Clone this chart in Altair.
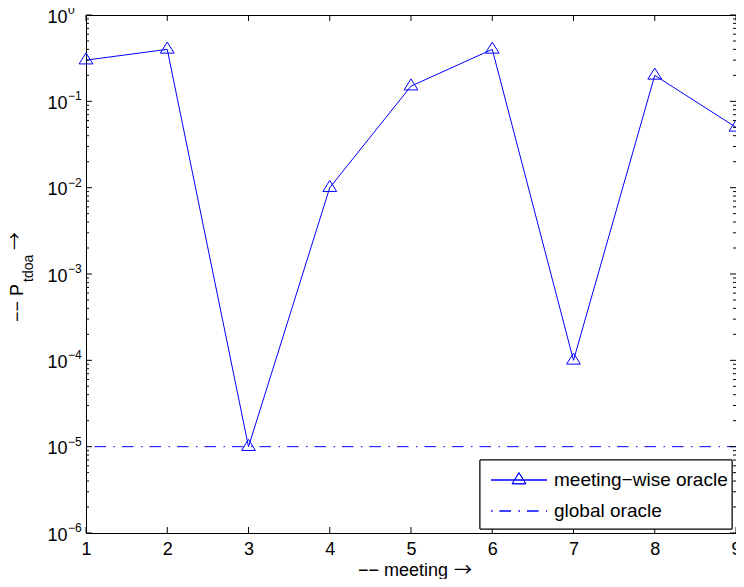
import altair as alt
import pandas as pd
import numpy as np

# ---- data ----
meetings = [1, 2, 3, 4, 5, 6, 7, 8, 9]
p_tdoa = [0.3, 0.4, 1e-5, 0.01, 0.15, 0.4, 1e-4, 0.2, 0.05]
global_x = [1, 9]
global_y = [1e-5, 1e-5]
x_ticks = [1, 2, 3, 4, 5, 6, 7, 8, 9]
y_exponents = [0, -1, -2, -3, -4, -5, -6]
legend_labels = ["meeting\u2212wise oracle", "global oracle"]
x_title = "\u2212\u2212 meeting"
y_title = "\u2212\u2212 P"
y_sub = "tdoa"
arrow = "\u2192"

W, H = 650, 518
BLUE = "#0000ff"
FONT = "Liberation Sans, DejaVu Sans"
AFONT = "Noto Sans CJK JP, DejaVu Sans"

y_major = [10.0 ** e for e in y_exponents]
y_minor = [k * 10.0 ** d for d in range(-6, 0) for k in range(2, 10)]

xs = alt.Scale(domain=[1, 9], nice=False, zero=False)
ys = alt.Scale(type="log", domain=[1e-6, 1], nice=False)

XAX = alt.Axis(values=x_ticks, format="d", ticks=False, domain=False, grid=False,
               labelFont=FONT, labelFontSize=18, labelColor="black", labelPadding=7,
               labelFlush=False, title=None)
YAX = alt.Axis(values=y_major, labelExpr="'10'", ticks=False, domain=False, grid=False,
               labelFont=FONT, labelFontSize=18, labelColor="black", labelPadding=19,
               labelOffset=2, labelFlush=False, labelOverlap=False, title=None)


def X(f="meeting:Q"):
    return alt.X(f, scale=xs, axis=XAX)


def Y(f="p:Q"):
    return alt.Y(f, scale=ys, axis=YAX)


df = pd.DataFrame({"meeting": meetings, "p": p_tdoa})
gdf = pd.DataFrame({"meeting": global_x, "p": global_y})

line = alt.Chart(df).mark_line(color=BLUE, strokeWidth=1).encode(x=X(), y=Y())
tri_path = "M-1,0.55L0,-1.05L1,0.55Z"
points = alt.Chart(df).mark_point(shape=tri_path, size=190, filled=False, color=BLUE,
                                  strokeWidth=1, opacity=1).encode(x=X(), y=Y())
DASH = [11.5, 7.5, 1.5, 7]
gline = alt.Chart(gdf).mark_line(color=BLUE, strokeWidth=1, strokeDash=DASH,
                                 strokeDashOffset=19).encode(x=X(), y=Y())

# exponent labels for y axis
edf = pd.DataFrame({"p": y_major,
                    "e": [("\u2212" + str(-e)) if e < 0 else str(e) for e in y_exponents]})
exps = alt.Chart(edf).mark_text(align="left", baseline="middle", font=FONT, fontSize=12,
                                color="black", dy=-5).encode(
    x=alt.value(-18), y=Y(), text="e:N")

# inward ticks
ymaj = pd.DataFrame({"p": y_major})
ymin = pd.DataFrame({"p": y_minor})
xt = pd.DataFrame({"meeting": x_ticks})


def yticks(d, x1, x2):
    return alt.Chart(d).mark_rule(color="black", strokeWidth=1).encode(
        y=Y(), x=alt.value(x1), x2=alt.value(x2))


def xticks(y1, y2):
    return alt.Chart(xt).mark_rule(color="black", strokeWidth=1).encode(
        x=X(), y=alt.value(y1), y2=alt.value(y2))


ticks = [yticks(ymaj, 0, 6), yticks(ymaj, W - 6, W), yticks(ymin, 0, 3), yticks(ymin, W - 3, W),
         xticks(H - 6, H), xticks(0, 6)]

# titles built from text pieces
tdf = pd.DataFrame({"a": [y_title], "b": [y_sub], "c": [arrow], "x": [x_title]})
t1 = alt.Chart(tdf).mark_text(align="left", baseline="alphabetic", angle=270, font=FONT,
                              fontSize=18, color="black").encode(
    x=alt.value(-63), y=alt.value(307), text="a:N")
t2 = alt.Chart(tdf).mark_text(align="left", baseline="alphabetic", angle=270, font=FONT,
                              fontSize=14, color="black").encode(
    x=alt.value(-53), y=alt.value(267), text="b:N")
t3 = alt.Chart(tdf).mark_text(align="left", baseline="middle", angle=270,
                              font=AFONT, fontSize=18, color="black").encode(
    x=alt.value(-70), y=alt.value(235), text="c:N")
xt1 = alt.Chart(tdf).mark_text(align="right", baseline="alphabetic", font=FONT,
                               fontSize=18, color="black").encode(
    x=alt.value(362), y=alt.value(H + 43), text="x:N")
xt2 = alt.Chart(tdf).mark_text(align="left", baseline="middle", font=AFONT,
                               fontSize=18, color="black").encode(
    x=alt.value(368), y=alt.value(H + 38), text="c:N")

# legend
LX = W - 256
ldf = pd.DataFrame({"label": legend_labels})
lbox = alt.Chart(ldf).mark_rect(fill="white", stroke="black", strokeWidth=1).encode(
    x=alt.value(LX), x2=alt.value(LX + 252), y=alt.value(445), y2=alt.value(514))
l1 = alt.Chart(ldf).mark_rule(color=BLUE, strokeWidth=1).encode(
    x=alt.value(LX + 11), x2=alt.value(LX + 67), y=alt.value(465))
l1m = alt.Chart(ldf).mark_point(shape=tri_path, size=190, filled=False, color=BLUE,
                                strokeWidth=1, opacity=1).encode(
    x=alt.value(LX + 39), y=alt.value(465))
l2 = alt.Chart(ldf).mark_rule(color=BLUE, strokeWidth=1, strokeDash=DASH,
                              strokeDashOffset=19).encode(
    x=alt.value(LX + 11), x2=alt.value(LX + 67), y=alt.value(496))
lt1 = alt.Chart(pd.DataFrame({"label": [legend_labels[0]]})).mark_text(
    align="left", baseline="middle", font=FONT, fontSize=19, color="black").encode(
    x=alt.value(LX + 74), y=alt.value(465), text="label:N")
lt2 = alt.Chart(pd.DataFrame({"label": [legend_labels[1]]})).mark_text(
    align="left", baseline="middle", font=FONT, fontSize=19, color="black").encode(
    x=alt.value(LX + 74), y=alt.value(496), text="label:N")

chart = alt.layer(line, gline, points, exps, *ticks, t1, t2, t3, xt1, xt2,
                  lbox, l1, l1m, l2, lt1, lt2).properties(
    width=W, height=H,
    autosize=alt.AutoSizeParams(type="none"),
    padding={"left": 78, "top": 7, "right": 0, "bottom": 46},
    background="white",
).configure_view(stroke="black", strokeWidth=1)

chart.save("out.html", embed_options={"renderer": "svg", "actions": False})
